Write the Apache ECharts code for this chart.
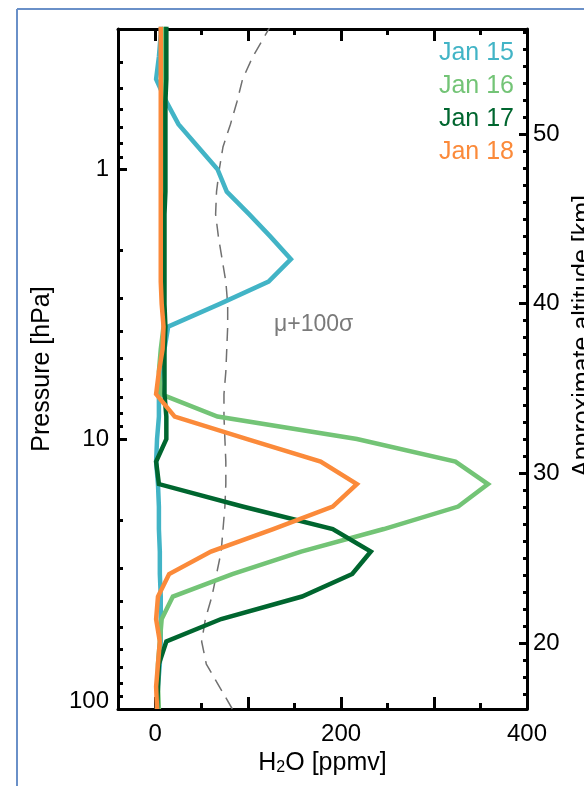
<!DOCTYPE html>
<html><head><meta charset="utf-8">
<script src="https://cdn.jsdelivr.net/npm/echarts@6/dist/echarts.min.js"></script>
<style>html,body{margin:0;padding:0;background:#fff}#c{width:584px;height:786px}</style>
</head><body><div id="c"></div>
<script>
// Pressure levels [hPa], bottom (100 hPa) to top
const pressure = [100, 82.54, 68.13, 56.23, 46.42, 38.31, 31.62, 26.10, 21.54, 17.78, 14.68, 12.12,
  10, 8.254, 6.813, 5.623, 4.642, 3.831, 3.162, 2.610, 2.154, 1.778, 1.468, 1.212,
  1.0, 0.8254, 0.6813, 0.5623, 0.4642, 0.3831, 0.3162, 0.2610];
// H2O [ppmv] per level
const jan15 = [2, 3, 5, 6, 6, 6, 5, 5, 4, 4, 3, 1, 2, 4, 4, 6, 10, 14, 69, 122, 146, 124, 101, 77, 67, 46, 25, 12, 1, 4, 6, 7];
const jan16 = [4, 3, 3, 5, 7, 19, 83, 157, 246, 326, 358, 323, 217, 67, 6, 4, 6, 9, 9, 9, 9, 9, 9, 9, 9, 9, 9, 10, 10, 10, 10, 10];
const jan17 = [2, 3, 4, 12, 71, 158, 212, 232, 191, 94, 4, 1, 12, 12, 10, 10, 10, 11, 10, 10, 10, 10, 10, 11, 11, 11, 11, 11, 12, 12, 12, 12];
const jan18 = [2, 1, 3, 5, 1, 3, 15, 60, 127, 191, 217, 178, 99, 21, 1, 4, 8, 9, 7, 6, 6, 6, 6, 6, 6, 6, 6, 6, 6, 6, 6, 6];
const muPlus100Sigma = [83, 69, 55, 50, 54, 61, 66, 71, 73, 75, 76, 76, 75, 74, 74, 76, 77, 78, 78, 76, 72, 68, 65, 66, 69, 73, 81, 88, 94, 105, 119, 133];
const seriesNames = ['Jan 15', 'Jan 16', 'Jan 17', 'Jan 18'];
const seriesColors = ['#42b4c6', '#73c476', '#00662f', '#fb8a3a'];
// Tick values
const xMajorTicks = [0, 100, 200, 300, 400];
const xMinorTicks = [50, 150, 250, 350];
const xLabels = [0, 200, 400];
const pMajorTicks = [1, 10, 100];
const pMinorTicks = [0.4, 0.5, 0.6, 0.7, 0.8, 0.9, 2, 3, 4, 5, 6, 7, 8, 9, 20, 30, 40, 50, 60, 70, 80, 90];
const altMajorTicks = [20, 30, 40, 50];
const altMinorTicks = [17, 18, 19, 21, 22, 23, 24, 25, 26, 27, 28, 29, 31, 32, 33, 34, 35, 36, 37, 38, 39, 41, 42, 43, 44, 45, 46, 47, 48, 49, 51, 52, 53, 54, 55, 56];

const FONT = "'Liberation Sans', Arial, Helvetica, sans-serif";
const chart = echarts.init(document.getElementById('c'), null, {renderer: 'canvas'});

const XMIN = -40, XMAX = 400, PMIN = 0.3025, PMAX = 100, AMIN = 16.11, AMAX = 56.19;
const axLine = {show: true, onZero: false, lineStyle: {color: '#000', width: 3}};
const noLine = {show: false, onZero: false};

function xAx(pos, ticks, len, labels, line, extra) {
  return Object.assign({
    type: 'value', position: pos, min: XMIN, max: XMAX, gridIndex: 0,
    axisLine: line ? axLine : noLine,
    axisTick: {show: true, inside: true, length: len, customValues: ticks, lineStyle: {color: '#000', width: 3}},
    axisLabel: labels ? {show: true, customValues: labels, margin: 13, fontSize: 24, color: '#000', fontFamily: FONT} : {show: false},
    splitLine: {show: false}
  }, extra || {});
}
function pAx(ticks, len, labels, line, extra) {
  return Object.assign({
    type: 'log', logBase: 10, position: 'left', min: PMIN, max: PMAX, inverse: true,
    axisLine: line ? axLine : noLine,
    axisTick: {show: true, inside: true, length: len, customValues: ticks, lineStyle: {color: '#000', width: 3}},
    axisLabel: labels ? {
      show: true, customValues: labels, margin: 9, fontSize: 24, color: '#000', fontFamily: FONT,
      formatter: v => { const r = Math.round(v); return r === 100 ? '{u|100}' : String(r); },
      rich: {u: {fontSize: 24, color: '#000', fontFamily: FONT, padding: [0, 0, 16, 0]}}
    } : {show: false},
    splitLine: {show: false}, minorTick: {show: false}
  }, extra || {});
}
function aAx(ticks, len, labels, line, extra) {
  return Object.assign({
    type: 'value', position: 'right', min: AMIN, max: AMAX,
    axisLine: line ? axLine : noLine,
    axisTick: {show: true, inside: true, length: len, customValues: ticks, lineStyle: {color: '#000', width: 3}},
    axisLabel: labels ? {show: true, customValues: labels, margin: 6, fontSize: 24, color: '#000', fontFamily: FONT} : {show: false},
    splitLine: {show: false}
  }, extra || {});
}

function pairs(arr) { return arr.map((v, i) => [v, pressure[i]]); }

const series = [{
  name: 'mu', type: 'line', data: pairs(muPlus100Sigma), showSymbol: false, silent: true,
  lineStyle: {color: '#707070', width: 1.5, type: [13, 8]}, z: 2
}].concat(seriesNames.map((n, i) => ({
  name: n, type: 'line', data: pairs([jan15, jan16, jan17, jan18][i]), showSymbol: false,
  color: seriesColors[i], lineStyle: {color: seriesColors[i], width: 4.5, join: 'miter'}, z: 3 + i
})));

chart.setOption({
  animation: false,
  backgroundColor: '#fff',
  grid: {left: 118, right: 57, top: 29, bottom: 77, containLabel: false, outerBoundsMode: 'none'},
  xAxis: [
    xAx('bottom', xMajorTicks, 12, xLabels, true, {
      name: '{a|H}{s|2}{a|O [ppmv]}', nameLocation: 'middle', nameGap: 42,
      nameTextStyle: {fontSize: 25, color: '#000', fontFamily: FONT,
        rich: {a: {fontSize: 25, color: '#000', fontFamily: FONT}, s: {fontSize: 16, color: '#000', fontFamily: FONT, verticalAlign: 'bottom', lineHeight: 8}}}
    }),
    xAx('bottom', xMinorTicks, 6, null, false),
    xAx('top', xMajorTicks, 12, null, true),
    xAx('top', xMinorTicks, 6, null, false)
  ],
  yAxis: [
    pAx(pMajorTicks, 9, pMajorTicks, true, {
      name: 'Pressure [hPa]', nameLocation: 'middle', nameGap: 63, nameRotate: 90,
      nameTextStyle: {fontSize: 25, color: '#000', fontFamily: FONT}
    }),
    pAx(pMinorTicks, 5, null, false),
    aAx(altMajorTicks, 8, altMajorTicks, true, {
      name: 'Approximate altitude [km]', nameLocation: 'middle', nameGap: 33, nameRotate: 90,
      nameTextStyle: {fontSize: 25, color: '#000', fontFamily: FONT, padding: [0, 0, 0, 66]}
    }),
    aAx(altMinorTicks, 4, null, false)
  ],
  legend: {
    orient: 'vertical', right: 70, top: 41, itemGap: 8, itemWidth: 0, itemHeight: 0, padding: 0,
    icon: 'rect', selectedMode: false,
    textStyle: {fontSize: 25, fontFamily: FONT},
    data: seriesNames.map((n, i) => ({name: n, textStyle: {color: seriesColors[i], fontSize: 25, fontFamily: FONT}}))
  },
  graphic: [
    {type: 'line', shape: {x1: 17, y1: 9, x2: 584, y2: 9}, style: {stroke: '#6a90c8', lineWidth: 2}, silent: true},
    {type: 'line', shape: {x1: 17, y1: 9, x2: 17, y2: 786}, style: {stroke: '#6a90c8', lineWidth: 2}, silent: true},
    {type: 'text', left: 274, top: 313, style: {text: 'μ+100σ', fontSize: 23, fill: '#7a7a7a', fontFamily: FONT}, silent: true}
  ],
  series: series
});
</script>
</body></html>
